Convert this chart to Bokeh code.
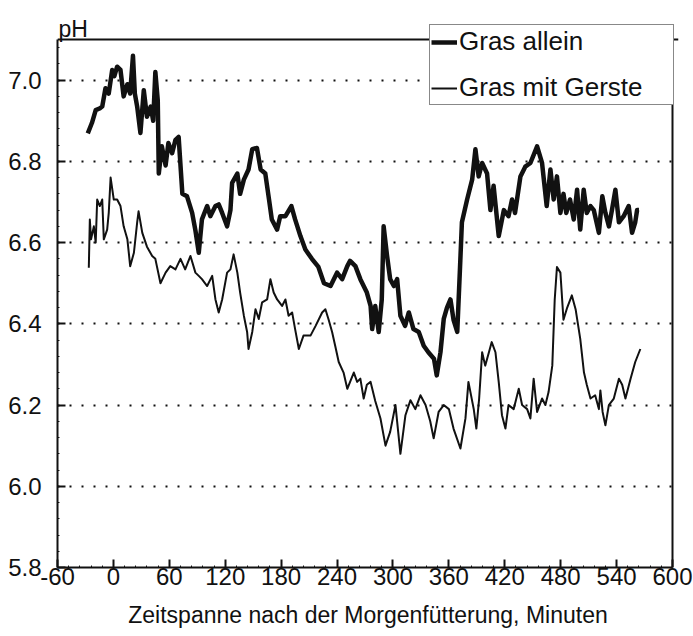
from bokeh.plotting import figure
from bokeh.models import (Range1d, FixedTicker, PrintfTickFormatter, Legend, LegendItem,
                          Span, Label)
from bokeh.embed import file_html
from bokeh.resources import INLINE

# ---- data ----
gras_x = [-27.5, -23, -19, -15, -12, -8.5, -5, -1.3, 1, 4, 7.6, 11, 15, 18, 21, 23, 25.5, 29,
          32.6, 36, 40, 42.7, 45, 47.6, 48.7, 52, 56, 59, 63, 66.6, 70, 74, 79, 84.5, 88, 91.6,
          95, 100.6, 104, 109.5, 113, 116.7, 122, 125.6, 127.4, 133, 136, 140, 145, 149, 154,
          158, 163, 167, 170, 175.7, 179, 184.6, 191, 195, 200.7, 206, 213, 220, 226, 233, 240,
          245.5, 251, 254, 259.7, 265, 272, 276, 277.7, 281, 284.7, 288, 290, 293.7, 297, 301,
          304.5, 308, 313, 317, 322, 327.7, 333, 338, 344, 347, 351, 354.5, 358, 361.7, 365,
          369, 372, 374, 379.6, 385, 388.5, 392, 395.7, 401, 404.6, 408, 413.5, 419, 424,
          427.8, 431, 436.8, 442, 447.5, 454.7, 460, 465, 469, 472.5, 476, 479.7, 483, 486,
          490, 494, 497.6, 501, 504.7, 508, 512, 515.5, 521, 524.7, 528, 531.8, 535, 538.7,
          542.5, 547.6, 553, 556.6, 560, 562, 564]
gras_y = [6.869, 6.895, 6.926, 6.93, 6.935, 6.98, 6.967, 7.025, 7.01, 7.033, 7.025, 6.96, 6.99,
          6.967, 7.06, 6.967, 6.935, 6.87, 6.975, 6.91, 6.935, 6.90, 7.02, 6.95, 6.77, 6.837,
          6.79, 6.845, 6.82, 6.853, 6.86, 6.72, 6.714, 6.673, 6.63, 6.575, 6.657, 6.69, 6.665,
          6.69, 6.694, 6.673, 6.64, 6.68, 6.747, 6.77, 6.72, 6.755, 6.78, 6.83, 6.833, 6.78,
          6.77, 6.706, 6.657, 6.632, 6.665, 6.665, 6.69, 6.657, 6.616, 6.583, 6.56, 6.54, 6.50,
          6.493, 6.526, 6.51, 6.542, 6.555, 6.542, 6.51, 6.477, 6.444, 6.387, 6.444, 6.38,
          6.46, 6.64, 6.567, 6.51, 6.493, 6.51, 6.42, 6.395, 6.428, 6.387, 6.38, 6.346, 6.33,
          6.314, 6.273, 6.33, 6.412, 6.44, 6.46, 6.41, 6.38, 6.54, 6.65, 6.706, 6.755, 6.83,
          6.763, 6.796, 6.77, 6.68, 6.74, 6.616, 6.68, 6.665, 6.706, 6.673, 6.763, 6.787,
          6.796, 6.837, 6.796, 6.69, 6.78, 6.706, 6.763, 6.673, 6.72, 6.673, 6.706, 6.657,
          6.73, 6.632, 6.73, 6.673, 6.69, 6.68, 6.624, 6.714, 6.673, 6.64, 6.68, 6.73, 6.65,
          6.665, 6.69, 6.624, 6.65, 6.68, 6.68]

gerste_x = [-26.4, -25.3, -24, -21, -19, -17.4, -14.6, -12, -10.3, -6.7, -5, -3, 0.4, 4, 7.6,
            11, 15, 18, 22, 25.5, 27, 31, 36, 41.6, 45, 50.5, 56, 61, 66.6, 72, 77, 82.7, 88,
            91.6, 95, 100.6, 106, 109.5, 113, 116.7, 122, 125.6, 129, 133, 136, 140, 143.5,
            145, 149, 152.5, 156, 159.6, 165, 168.5, 172, 175.7, 181, 184.6, 188, 191.8, 195,
            199, 204, 211.5, 217, 224, 227.5, 231, 234.7, 238, 241.8, 247, 251, 254, 258,
            261.6, 265, 268.6, 272, 276, 281, 286.6, 292, 297, 302.7, 308, 313.4, 318.8, 324,
            329.5, 335, 340, 343.7, 349, 354.5, 360, 365, 372.4, 377.8, 381, 386.7, 389.5,
            392.5, 395.7, 399, 403, 406, 410, 413.5, 417, 420.7, 424, 429.6, 435, 438.6, 444,
            447.5, 451, 454.7, 460, 463.6, 467, 471, 473.6, 476, 479.7, 483, 487, 492, 496,
            501, 505, 508, 512, 517, 521, 522.6, 525, 528, 531.7, 537, 542.5, 546, 549.5,
            555, 560, 565.5]
gerste_y = [6.538, 6.657, 6.608, 6.64, 6.60, 6.706, 6.69, 6.706, 6.608, 6.632, 6.673, 6.76,
            6.706, 6.706, 6.69, 6.64, 6.608, 6.542, 6.575, 6.65, 6.677, 6.624, 6.59, 6.567,
            6.56, 6.50, 6.526, 6.542, 6.534, 6.56, 6.534, 6.567, 6.526, 6.518, 6.51, 6.493,
            6.518, 6.46, 6.428, 6.46, 6.526, 6.534, 6.571, 6.526, 6.477, 6.42, 6.38, 6.338,
            6.38, 6.436, 6.412, 6.453, 6.46, 6.51, 6.477, 6.46, 6.444, 6.46, 6.42, 6.428,
            6.387, 6.338, 6.371, 6.371, 6.395, 6.428, 6.436, 6.41, 6.38, 6.346, 6.306, 6.28,
            6.24, 6.257, 6.28, 6.257, 6.265, 6.216, 6.25, 6.257, 6.21, 6.167, 6.10, 6.134,
            6.2, 6.08, 6.175, 6.212, 6.19, 6.224, 6.2, 6.16, 6.118, 6.183, 6.2, 6.19, 6.142,
            6.093, 6.167, 6.257, 6.19, 6.142, 6.216, 6.33, 6.297, 6.33, 6.355, 6.33, 6.257,
            6.175, 6.142, 6.2, 6.19, 6.24, 6.2, 6.19, 6.167, 6.265, 6.183, 6.216, 6.2, 6.232,
            6.297, 6.46, 6.54, 6.526, 6.41, 6.44, 6.47, 6.436, 6.363, 6.28, 6.25, 6.216,
            6.224, 6.19, 6.236, 6.183, 6.15, 6.2, 6.216, 6.265, 6.25, 6.216, 6.265, 6.306,
            6.338]

x_ticks = [-60, 0, 60, 120, 180, 240, 300, 360, 420, 480, 540, 600]
y_ticks = [5.8, 6.0, 6.2, 6.4, 6.6, 6.8, 7.0]
x_minor = list(range(-60, 601, 12))
y_minor = [round(5.8 + 0.04 * i, 2) for i in range(33)]

# axis box limits (the drawn frame); the canvas frame is a bit larger so that the
# legend and the "pH" label, which lie outside the box, are not clipped
X_MIN, X_MAX = -60, 600
Y_MIN, Y_MAX = 5.8, 7.1

FONT = "Liberation Sans"
INK = "#111111"

p = figure(frame_width=621, frame_height=553,
           min_border_left=57, min_border_top=14, min_border_right=15, min_border_bottom=69,
           x_range=Range1d(X_MIN, 606.44), y_range=Range1d(Y_MIN, 7.1616),
           output_backend="svg", toolbar_location=None, background_fill_color="white")
p.outline_line_color = None

r1 = p.line(gras_x, gras_y, line_color=INK, line_width=4.5, line_join="round")
r2 = p.line(gerste_x, gerste_y, line_color=INK, line_width=2, line_join="round")

# box: top and right borders
p.add_layout(Span(location=Y_MAX, dimension="width", line_color=INK, line_width=2))
p.segment(x0=[X_MAX], y0=[Y_MIN], x1=[X_MAX], y1=[Y_MAX], line_color=INK, line_width=2)

# "pH" above the axis
p.add_layout(Label(x=X_MIN, y=Y_MAX, text="pH", x_offset=1, y_offset=11,
                   text_font=FONT, text_font_size="23px", text_color=INK,
                   text_baseline="alphabetic", text_align="left"))

# axes
for ax in (p.xaxis[0], p.yaxis[0]):
    ax.axis_line_color = INK
    ax.axis_line_width = 2
    ax.major_tick_line_color = INK
    ax.major_tick_line_width = 2
    ax.major_tick_in = 8
    ax.major_tick_out = 0
    ax.minor_tick_line_color = INK
    ax.minor_tick_in = 2
    ax.minor_tick_out = 0
    ax.major_label_text_font = FONT
    ax.major_label_text_font_size = "24px"
    ax.major_label_text_color = INK

p.xaxis.bounds = (X_MIN, X_MAX)
p.yaxis.bounds = (Y_MIN, Y_MAX)
p.xaxis.ticker = FixedTicker(ticks=x_ticks, minor_ticks=x_minor)
p.yaxis.ticker = FixedTicker(ticks=y_ticks, minor_ticks=y_minor)
p.yaxis.formatter = PrintfTickFormatter(format="%.1f")
p.xaxis.major_label_overrides = {-60: "-60"}
p.xaxis.major_label_standoff = 0
p.yaxis.major_label_standoff = 16

p.xaxis.axis_label = "Zeitspanne nach der Morgenfütterung, Minuten"
p.xaxis.axis_label_text_font = FONT
p.xaxis.axis_label_text_font_size = "23px"
p.xaxis.axis_label_text_font_style = "normal"
p.xaxis.axis_label_text_color = INK
p.xaxis.axis_label_standoff = 14

# grid
p.xgrid.grid_line_color = None
p.ygrid.grid_line_color = INK
p.ygrid.grid_line_width = 2
p.ygrid.grid_line_dash = "2 10"
p.ygrid.bounds = (X_MIN, X_MAX)

legend = Legend(items=[LegendItem(label="Gras allein", renderers=[r1]),
                       LegendItem(label="Gras mit Gerste", renderers=[r2])],
                location=(372, 462))
legend.label_text_font = FONT
legend.label_text_font_size = "26px"
legend.label_text_color = INK
legend.glyph_width = 26
legend.glyph_height = 30
legend.label_height = 30
legend.label_width = 213
legend.label_standoff = 2
legend.padding = 1
legend.spacing = 15
legend.margin = 0
legend.border_line_color = INK
legend.border_line_width = 1.5
legend.background_fill_color = "white"
legend.background_fill_alpha = 1.0
p.add_layout(legend)

open("out.html", "w").write(file_html(p, INLINE))
